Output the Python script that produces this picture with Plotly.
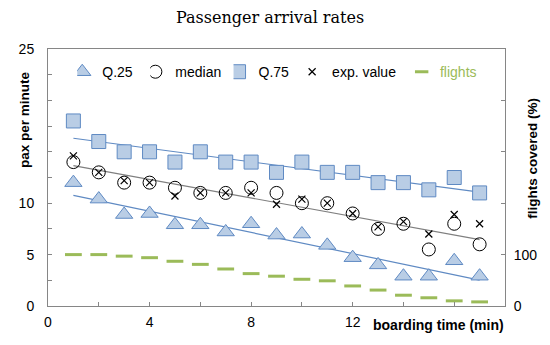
import numpy as np
import plotly.graph_objects as go

boarding_time = list(range(1, 18))
q25 = [12.0, 10.4, 8.9, 9.0, 7.9, 7.9, 7.2, 8.0, 6.9, 7.0, 5.9, 4.7, 4.0, 2.9, 2.9, 4.4, 2.9]
median = [14.0, 13.0, 12.0, 12.0, 11.5, 11.0, 11.0, 11.5, 11.0, 10.0, 10.0, 9.0, 7.5, 8.0, 5.5, 8.0, 6.0]
q75 = [18.0, 16.0, 15.0, 15.0, 14.0, 15.0, 14.0, 14.0, 13.0, 14.0, 13.0, 13.0, 12.0, 12.0, 11.3, 12.5, 11.0]
exp_value = [14.6, 13.0, 12.2, 12.0, 10.7, 11.0, 11.0, 11.0, 9.9, 10.4, 10.0, 9.0, 7.7, 8.2, 7.0, 8.9, 8.0]
flights = [100, 100, 97, 94, 87, 81, 72, 63, 58, 52, 49, 39, 31, 21, 16, 10, 8]

y_tickvals = [0, 2.5, 5, 7.5, 10, 12.5, 15, 17.5, 20, 22.5, 25]
y_ticktext = ["0", "", "5", "", "10", "", "", "", "", "", "25"]
x_tickvals = [0, 2, 4, 6, 8, 10, 12, 14, 16, 18]
x_ticktext = ["0", "", "4", "", "8", "", "12", "", "", ""]
y2_tickvals = [0, 100, 200, 300, 400, 500]
y2_ticktext = ["0", "100", "", "", "", ""]

BLUE_FILL = "#b9cde5"
BLUE_LINE = "#5f8ac3"
GREEN = "#9bbb59"
AXIS = "#868686"
FONT = "Liberation Sans, Arial, sans-serif"

x = np.array(boarding_time, dtype=float)


def trend(vals):
    k, b = np.polyfit(x, np.array(vals), 1)
    return list(k * x + b)


fig = go.Figure()

fig.add_trace(go.Scatter(x=boarding_time, y=trend(q25), mode="lines",
                         line=dict(color=BLUE_LINE, width=1.2), showlegend=False, hoverinfo="skip"))
fig.add_trace(go.Scatter(x=boarding_time, y=trend(median), mode="lines",
                         line=dict(color="#7f7f7f", width=1.2), showlegend=False, hoverinfo="skip"))
fig.add_trace(go.Scatter(x=boarding_time, y=trend(q75), mode="lines",
                         line=dict(color=BLUE_LINE, width=1.2), showlegend=False, hoverinfo="skip"))

fig.add_trace(go.Scatter(x=boarding_time, y=flights, mode="markers", name="<span style='color:#9bbb59'>flights</span>",
                         yaxis="y2", legend="legend5",
                         marker=dict(symbol="line-ew", size=12, line=dict(color=GREEN, width=3))))
fig.add_trace(go.Scatter(x=boarding_time, y=q25, mode="markers", name="Q.25", legend="legend",
                         marker=dict(symbol="triangle-up", size=15, color=BLUE_FILL,
                                     line=dict(color=BLUE_LINE, width=1))))
fig.add_trace(go.Scatter(x=boarding_time, y=q75, mode="markers", name="Q.75", legend="legend3",
                         marker=dict(symbol="square", size=14, color=BLUE_FILL,
                                     line=dict(color=BLUE_LINE, width=1))))
fig.add_trace(go.Scatter(x=boarding_time, y=median, mode="markers", name="median", legend="legend2",
                         marker=dict(symbol="circle-open", size=13, color="black",
                                     line=dict(color="black", width=1))))
fig.add_trace(go.Scatter(x=boarding_time, y=exp_value, mode="markers", name="exp. value", legend="legend4",
                         marker=dict(symbol="x-thin", size=7, color="black",
                                     line=dict(color="black", width=1.2))))

leg_common = dict(orientation="h", bgcolor="rgba(0,0,0,0)", font=dict(family=FONT, size=14, color="black"),
                  itemwidth=30, xanchor="left", yanchor="middle", y=0.91, indentation=-15)

fig.update_layout(
    width=550, height=345,
    margin=dict(l=48, r=45, t=49, b=39),
    paper_bgcolor="white", plot_bgcolor="white",
    title=dict(text="Passenger arrival rates", x=0.491, xanchor="center", y=0.95, yanchor="middle",
               font=dict(family="DejaVu Serif, serif", size=16, color="black")),
    xaxis=dict(range=[0, 18], tickvals=x_tickvals, ticktext=x_ticktext, ticks="inside", ticklen=4,
               tickcolor=AXIS, showline=True, linecolor=AXIS, linewidth=1, mirror=True, ticklabelstandoff=3,
               showgrid=False, zeroline=False, tickfont=dict(family=FONT, size=14, color="black")),
    yaxis=dict(range=[0, 25], tickvals=y_tickvals, ticktext=y_ticktext, ticks="inside", ticklen=4,
               tickcolor=AXIS, showline=True, linecolor=AXIS, linewidth=1, ticklabelstandoff=10,
               showgrid=False, zeroline=False, tickfont=dict(family=FONT, size=14, color="black")),
    yaxis2=dict(range=[0, 500], tickvals=y2_tickvals, ticktext=y2_ticktext, ticks="inside", ticklen=4,
                tickcolor=AXIS, showline=True, linecolor=AXIS, linewidth=1, overlaying="y", side="right",
                ticklabelstandoff=5,
                showgrid=False, zeroline=False, tickfont=dict(family=FONT, size=14, color="black")),
    legend=dict(leg_common, x=0.064),
    legend2=dict(leg_common, x=0.224),
    legend3=dict(leg_common, x=0.406),
    legend4=dict(leg_common, x=0.567),
    legend5=dict(leg_common, x=0.803),
    annotations=[
        dict(text="<b>pax per minute</b>", textangle=-90, xref="paper", yref="paper", x=-0.050, y=0.724,
             xanchor="center", yanchor="middle", showarrow=False, font=dict(family=FONT, size=13.5, color="black")),
        dict(text="<b>flights covered (%)</b>", textangle=-90, xref="paper", yref="paper", x=1.061, y=0.576,
             xanchor="center", yanchor="middle", showarrow=False, font=dict(family=FONT, size=13.5, color="black")),
        dict(text="<b>boarding time (min)</b>", xref="x", yref="paper", x=15.4, y=-0.075,
             xanchor="center", yanchor="middle", showarrow=False, font=dict(family=FONT, size=14, color="black")),
    ],
)

fig.write_html("out.html", post_script="document.body.style.margin='0';",
               config={"displayModeBar": False})
